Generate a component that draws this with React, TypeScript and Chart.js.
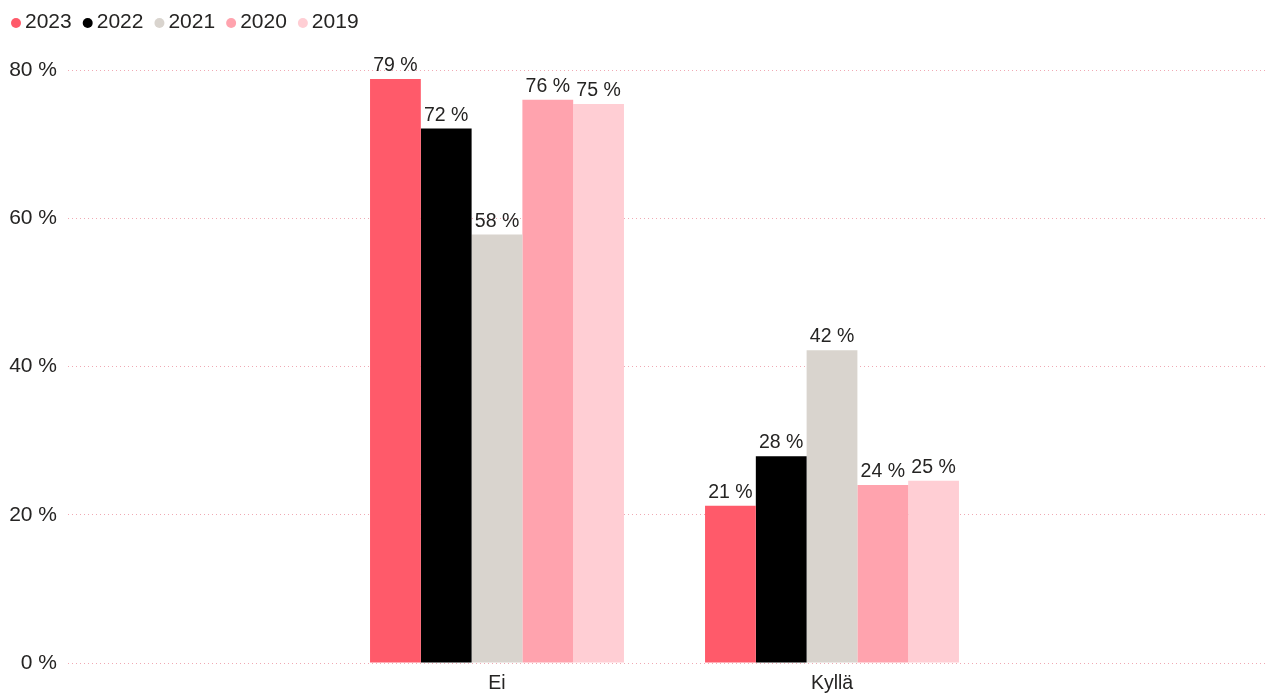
import React, { useEffect, useRef } from "react";
import { Chart, registerables } from "chart.js";

Chart.register(...registerables);

const categories = ["Ei", "Kyllä"];
const seriesNames = ["2023", "2022", "2021", "2020", "2019"];
const values2023 = [78.8, 21.2];
const values2022 = [72.1, 27.9];
const values2021 = [57.8, 42.2];
const values2020 = [76.0, 24.0];
const values2019 = [75.4, 24.6];
const seriesValues = [values2023, values2022, values2021, values2020, values2019];
const seriesColors = ["#FF5A6A", "#000000", "#D9D4CE", "#FFA3AE", "#FFCED4"];
const yTicks = [0, 20, 40, 60, 80];

const FONT = "'Liberation Sans', Arial, sans-serif";
const TEXT = "#252423";

const valueLabels = {
  id: "valueLabels",
  afterDatasetsDraw(chart: any) {
    const ctx = chart.ctx;
    ctx.save();
    ctx.font = `19.5px ${FONT}`;
    ctx.fillStyle = TEXT;
    ctx.textAlign = "center";
    ctx.textBaseline = "alphabetic";
    chart.data.datasets.forEach((ds: any, di: number) => {
      const meta = chart.getDatasetMeta(di);
      if (meta.hidden) return;
      meta.data.forEach((bar: any, i: number) => {
        const v = ds.data[i].y;
        ctx.fillText(`${Math.round(v)} %`, bar.x, bar.y - 8);
      });
    });
    ctx.restore();
  },
};

const topLegend = {
  id: "topLegend",
  afterDraw(chart: any) {
    const ctx = chart.ctx;
    ctx.save();
    ctx.font = `21px ${FONT}`;
    ctx.textBaseline = "middle";
    ctx.textAlign = "left";
    let cx = 16;
    const cy = 22.5;
    chart.data.datasets.forEach((ds: any) => {
      ctx.fillStyle = ds.backgroundColor;
      ctx.beginPath();
      ctx.arc(cx, cy + 0.5, 5, 0, Math.PI * 2);
      ctx.fill();
      ctx.fillStyle = TEXT;
      const tx = cx + 9;
      ctx.fillText(ds.label, tx, cy);
      const w = ctx.measureText(ds.label).width;
      cx = tx + w + 16;
    });
    ctx.restore();
  },
};

export default function App() {
  const ref = useRef<HTMLCanvasElement | null>(null);
  useEffect(() => {
    if (!ref.current) return;
    const chart = new Chart(ref.current, {
      type: "bar",
      data: {
        datasets: seriesNames.map((name, si) => ({
          label: name,
          data: categories.map((_, ci) => ({ x: ci, y: seriesValues[si][ci] })),
          backgroundColor: seriesColors[si],
          borderWidth: 0,
          barPercentage: 1,
          categoryPercentage: 0.758,
        })),
      },
      options: {
        animation: false,
        responsive: true,
        maintainAspectRatio: false,
        layout: { padding: { left: 0, right: 5, top: 70, bottom: 0 } },
        plugins: {
          tooltip: { enabled: false },
          legend: { display: false },
        },
        scales: {
          x: {
            type: "linear",
            offset: false,
            min: -1.2806,
            max: 2.2925,
            grid: { display: false, drawTicks: false },
            border: { display: false },
            afterBuildTicks: (scale: any) => {
              scale.ticks = categories.map((_, i) => ({ value: i }));
            },
            afterFit: (scale: any) => {
              scale.height = 30;
            },
            ticks: {
              padding: 9,
              color: TEXT,
              font: { family: FONT, size: 19.5 },
              callback: (v: any) => categories[v] ?? "",
              maxRotation: 0,
            },
          },
          y: {
            min: 0,
            max: 80,
            afterBuildTicks: (scale: any) => {
              scale.ticks = yTicks.map((v) => ({ value: v }));
            },
            afterFit: (scale: any) => {
              scale.width = 68;
            },
            grid: { color: "#F0A9B3", lineWidth: 1, drawTicks: false },
            border: { display: false, dash: [1, 3] },
            ticks: {
              padding: 11,
              color: TEXT,
              font: { family: FONT, size: 21 },
              callback: (v: any) => `${v} %`,
            },
          },
        },
      },
      plugins: [valueLabels, topLegend],
    });
    return () => chart.destroy();
  }, []);
  return (
    <div style={{ position: "fixed", left: 0, top: 0, width: 1270, height: 693, background: "#fff" }}>
      <canvas ref={ref} />
    </div>
  );
}
